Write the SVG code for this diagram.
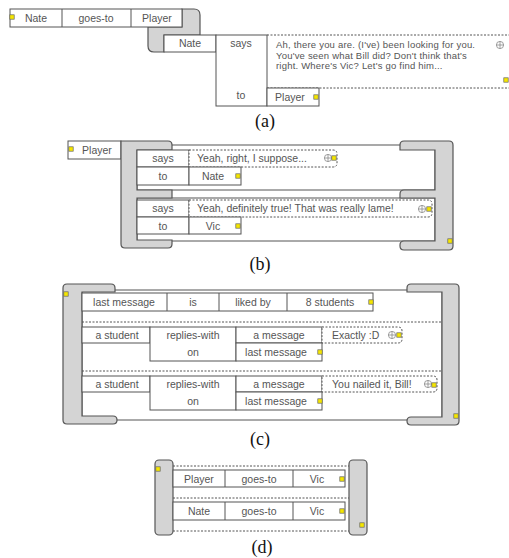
<svg xmlns="http://www.w3.org/2000/svg" width="509" height="558" viewBox="0 0 509 558">
<style>
.c{fill:#fff;stroke:#555;stroke-width:1}
.ln{stroke:#555;stroke-width:1;fill:none}
.d{stroke:#555;stroke-width:1;fill:none;stroke-dasharray:2 1.5}
.db{fill:#fff;stroke:#555;stroke-width:1;stroke-dasharray:2 1.5}
.g{fill:#d4d4d4;stroke:#555;stroke-width:1.2}
.t{font-family:"Liberation Sans",Arial,sans-serif;font-size:10.5px;fill:#555;text-anchor:middle}
.p{font-family:"Liberation Sans",Arial,sans-serif;font-size:10.5px;fill:#555}
.pa{font-family:"Liberation Sans",Arial,sans-serif;font-size:9.5px;fill:#555;letter-spacing:0.2px}
.lab{font-family:"Liberation Serif","Times New Roman",serif;font-size:18px;fill:#111;text-anchor:middle}
</style>
<defs>
<rect id="y" x="-2.2" y="-2.2" width="4.4" height="4.4" fill="#f5e600" stroke="#666" stroke-width="0.7"/>
<g id="plus"><circle r="3.6" fill="none" stroke="#888" stroke-width="0.8"/><path d="M-3.6,0H3.6M0,-3.6V3.6" stroke="#888" stroke-width="0.8"/></g>
</defs>

<!-- (a) -->
<g id="conn-a"><path class="g" d="M148,27 L182,27 L182,9 L194,9 Q200,9 200,15 L200,35 L164,35 L164,52 L154,52 Q148,52 148,46 Z"/></g>
<g id="a-row1">
<rect class="c" x="10" y="9" width="172" height="18"/>
<path class="ln" d="M62,9V27M131,9V27"/>
<text class="t" x="36" y="21.5">Nate</text>
<text class="t" x="96" y="21.5">goes-to</text>
<text class="t" x="157" y="21.5">Player</text>
<use href="#y" x="12" y="17"/>
</g>
<g id="a-row2">
<rect class="c" x="164" y="35" width="52" height="17"/>
<text class="t" x="190" y="47">Nate</text>
<rect class="c" x="216" y="35" width="51" height="71"/>
<text class="t" x="241" y="47">says</text>
<text class="t" x="241" y="99">to</text>
<path class="d" d="M267,35H509M267,88H509"/>
<text class="pa" x="276" y="48">Ah, there you are. (I've) been looking for you.</text>
<text class="pa" x="276" y="58.5">You've seen what Bill did? Don't think that's</text>
<text class="pa" x="276" y="69">right. Where's Vic? Let's go find him...</text>
<use href="#plus" x="500" y="45"/>
<use href="#y" x="506" y="80"/>
<rect class="c" x="267" y="88" width="52" height="18"/>
<text class="t" x="290" y="100.5">Player</text>
<use href="#y" x="316" y="97"/>
</g>
<text class="lab" x="265" y="127">(a)</text>

<!-- (b) -->
<g id="b-player">
<rect class="c" x="68" y="141" width="53" height="18"/>
<text class="t" x="97" y="153.5">Player</text>
<use href="#y" x="71" y="149"/>
</g>
<g id="b-frames">
<rect class="c" x="137" y="145" width="298" height="45"/>
<rect class="c" x="137" y="198" width="298" height="43"/>
</g>
<g id="b-brackets">
<path class="g" d="M121,141 L168,141 Q172,141 172,145 L172,150 L137,150 L137,190 L172,190 L172,198 L137,198 L137,240 L172,240 L172,244 Q172,248 168,248 L125,248 Q121,248 121,244 Z"/>
<path class="g" d="M453,145 Q453,141 449,141 L404,141 Q400,141 400,145 L400,150 L435,150 L435,190 L404,190 Q400,190 400,194 L400,198 L435,198 L435,241 L404,241 Q400,241 400,245 L400,246 Q400,250 404,250 L449,250 Q453,250 453,246 Z"/>
<use href="#y" x="450" y="241"/>
</g>
<g id="b-row1">
<rect class="c" x="137" y="150" width="52" height="17"/>
<rect class="c" x="137" y="167" width="52" height="18"/>
<text class="t" x="163" y="162">says</text>
<text class="t" x="163" y="180">to</text>
<path class="db" d="M189,150 H333 Q337,150 337,154 V163 Q337,167 333,167 H189 Z"/>
<text class="p" x="197" y="162">Yeah, right, I suppose...</text>
<use href="#plus" x="328" y="158"/>
<use href="#y" x="334" y="158"/>
<rect class="c" x="189" y="167" width="52" height="18"/>
<text class="t" x="213" y="180">Nate</text>
<use href="#y" x="238" y="176"/>
</g>
<g id="b-row2">
<rect class="c" x="137" y="200" width="52" height="17"/>
<rect class="c" x="137" y="217" width="52" height="17"/>
<text class="t" x="163" y="212">says</text>
<text class="t" x="163" y="229.5">to</text>
<path class="db" d="M189,200 H428 Q432,200 432,204 V213 Q432,217 428,217 H189 Z"/>
<text class="p" x="197" y="212">Yeah, definitely true! That was really lame!</text>
<use href="#plus" x="422" y="209"/>
<use href="#y" x="429" y="209"/>
<rect class="c" x="189" y="217" width="52" height="17"/>
<text class="t" x="213" y="229.5">Vic</text>
<use href="#y" x="238" y="226"/>
</g>
<text class="lab" x="260" y="270">(b)</text>

<!-- (c) -->
<g id="c-frame"><rect class="c" x="82" y="290" width="360" height="130"/></g>
<g id="c-brackets">
<path class="g" d="M63,288 Q63,284 67,284 L111,284 Q115,284 115,288 L115,292 L82,292 L82,416 L113,416 Q117,416 117,420 Q117,424 113,424 L67,424 Q63,424 63,420 Z"/>
<path class="g" d="M459,288 Q459,284 455,284 L411,284 Q407,284 407,288 L407,292 L442,292 L442,417 L411,417 Q407,417 407,421 Q407,425 411,425 L455,425 Q459,425 459,421 Z"/>
<use href="#y" x="66" y="294"/>
<use href="#y" x="456" y="416"/>
</g>
<g id="c-row1">
<rect class="c" x="82" y="293" width="291" height="18"/>
<path class="ln" d="M167,293V311M219,293V311M287,293V311"/>
<text class="t" x="124" y="305.5">last message</text>
<text class="t" x="193" y="305.5">is</text>
<text class="t" x="253" y="305.5">liked by</text>
<text class="t" x="330" y="305.5">8 students</text>
<use href="#y" x="371" y="302"/>
</g>
<g id="c-seps"><path class="d" d="M82,322H442M82,371H442"/></g>
<g id="c-row2">
<rect class="c" x="82" y="327" width="68" height="16"/>
<rect class="c" x="150" y="327" width="86" height="34"/>
<rect class="c" x="236" y="327" width="86" height="16"/>
<rect class="c" x="236" y="343" width="86" height="18"/>
<text class="t" x="117" y="338.5">a student</text>
<text class="t" x="193" y="338.5">replies-with</text>
<text class="t" x="193" y="355.5">on</text>
<text class="t" x="279" y="338.5">a message</text>
<text class="t" x="276" y="355.5">last message</text>
<use href="#y" x="320" y="352"/>
<path class="db" d="M322,327 H398 Q402,327 402,331 V339 Q402,343 398,343 H322 Z"/>
<text class="p" x="332" y="338.5">Exactly :D</text>
<use href="#plus" x="392" y="335"/>
<use href="#y" x="399" y="335"/>
</g>
<g id="c-row3">
<rect class="c" x="82" y="376" width="68" height="16"/>
<rect class="c" x="150" y="376" width="86" height="34"/>
<rect class="c" x="236" y="376" width="86" height="16"/>
<rect class="c" x="236" y="392" width="86" height="18"/>
<text class="t" x="117" y="387.5">a student</text>
<text class="t" x="193" y="387.5">replies-with</text>
<text class="t" x="193" y="404.5">on</text>
<text class="t" x="279" y="387.5">a message</text>
<text class="t" x="276" y="404.5">last message</text>
<use href="#y" x="320" y="401"/>
<path class="db" d="M322,376 H433 Q437,376 437,380 V388 Q437,392 433,392 H322 Z"/>
<text class="p" x="332" y="387.5">You nailed it, Bill!</text>
<use href="#plus" x="428" y="384"/>
<use href="#y" x="434" y="385"/>
</g>
<text class="lab" x="260" y="445">(c)</text>

<!-- (d) -->
<g id="d-bars">
<rect class="g" x="155" y="460" width="18" height="75" rx="4"/>
<rect class="g" x="349" y="460" width="18" height="75" rx="4"/>
<use href="#y" x="158" y="469"/>
<use href="#y" x="362" y="525"/>
</g>
<g id="d-seps"><path class="d" d="M173,466H349M173,498H349M173,531H349"/></g>
<g id="d-row1">
<rect class="c" x="173" y="470" width="172" height="17"/>
<path class="ln" d="M225,470V487M293,470V487"/>
<text class="t" x="199" y="482.5">Player</text>
<text class="t" x="259" y="482.5">goes-to</text>
<text class="t" x="317" y="482.5">Vic</text>
<use href="#y" x="342" y="479"/>
</g>
<g id="d-row2">
<rect class="c" x="173" y="502" width="172" height="18"/>
<path class="ln" d="M225,502V520M293,502V520"/>
<text class="t" x="199" y="515">Nate</text>
<text class="t" x="259" y="515">goes-to</text>
<text class="t" x="317" y="515">Vic</text>
<use href="#y" x="342" y="511"/>
</g>
<text class="lab" x="262" y="553">(d)</text>
</svg>
